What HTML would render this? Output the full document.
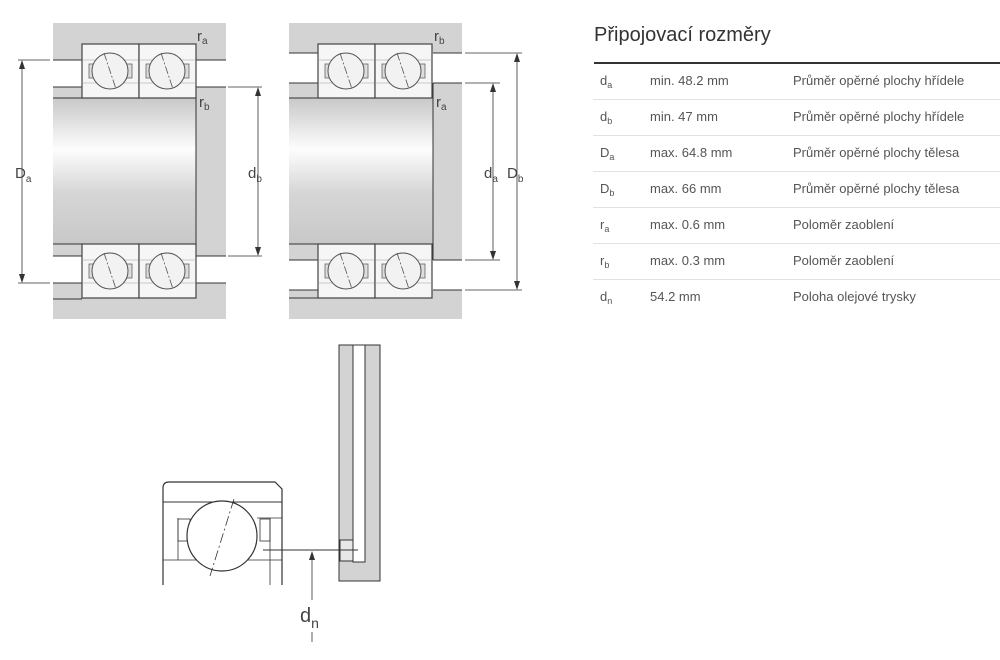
<!DOCTYPE html>
<html><head><meta charset="utf-8"><style>
body{margin:0;width:1000px;height:660px;background:#fff;overflow:hidden;font-family:"Liberation Sans",sans-serif;position:relative}
svg{position:absolute;left:0;top:0}
.t{position:absolute;left:593px;top:20px;width:407px;color:#333}
h1{font-weight:normal;font-size:20px;margin:0 0 0 1px;height:42px;line-height:30px;border-bottom:2px solid #333}
.r{height:35px;border-bottom:1px solid #e2e2e2;font-size:13px;line-height:34px;position:relative;color:#555}
.r span{position:absolute;top:0}
.a{left:7px}.b{left:57px}.c{left:200px}
sub{font-size:9px;vertical-align:-3px;line-height:0}
</style></head><body>
<svg width="1000" height="660" viewBox="0 0 1000 660" font-family="Liberation Sans, sans-serif" fill="none">
<defs>
<linearGradient id="g" x1="0" y1="0" x2="0" y2="1">
<stop offset="0" stop-color="#c8c8c8"/><stop offset="0.35" stop-color="#fdfdfd"/><stop offset="0.65" stop-color="#d6d6d6"/><stop offset="1" stop-color="#c8c8c8"/></linearGradient>
<g id="u">
<rect x="0" y="0" width="57" height="54" fill="#f6f6f6" stroke="#444" stroke-width="1.2"/>
<line x1="0" y1="16" x2="57" y2="16" stroke="#999" stroke-width=".6"/>
<line x1="0" y1="39" x2="57" y2="39" stroke="#999" stroke-width=".6"/>
<rect x="7" y="20" width="5" height="14" fill="#ddd" stroke="#666" stroke-width=".8"/>
<rect x="45" y="20" width="5" height="14" fill="#ddd" stroke="#666" stroke-width=".8"/>
<circle cx="28" cy="27" r="18" fill="#f2f2f2" stroke="#555" stroke-width="1"/>
<line x1="22" y1="9" x2="34" y2="45" stroke="#555" stroke-width=".8" stroke-dasharray="8 2 2 2"/>
</g>
</defs>
<!-- left diagram -->
<rect x="53" y="23" width="173" height="296" fill="#d3d3d3"/>
<rect x="53" y="60" width="173" height="27" fill="#fff"/>
<rect x="53" y="256" width="173" height="27" fill="#fff"/>
<rect x="53" y="98" width="143" height="146" fill="url(#g)"/>
<g stroke="#333" stroke-width="1">
<line x1="53" y1="60" x2="82" y2="60"/><line x1="53" y1="87" x2="82" y2="87"/><line x1="53" y1="98" x2="196" y2="98"/>
<line x1="196" y1="60" x2="226" y2="60"/><line x1="196" y1="87" x2="226" y2="87"/>
<line x1="53" y1="244" x2="196" y2="244"/><line x1="53" y1="256" x2="82" y2="256"/><line x1="53" y1="283" x2="82" y2="283"/>
<line x1="196" y1="256" x2="226" y2="256"/><line x1="196" y1="283" x2="226" y2="283"/><line x1="53" y1="299" x2="82" y2="299"/>
<line x1="196" y1="87" x2="196" y2="256"/>
</g>
<use href="#u" x="82" y="44"/><use href="#u" x="139" y="44"/>
<use href="#u" x="82" y="244"/><use href="#u" x="139" y="244"/>
<g stroke="#333" stroke-width=".8">
<line x1="18" y1="60" x2="50" y2="60"/><line x1="18" y1="283" x2="50" y2="283"/><line x1="22" y1="62" x2="22" y2="281"/>
<line x1="228" y1="87" x2="262" y2="87"/><line x1="228" y1="256" x2="262" y2="256"/><line x1="258" y1="89" x2="258" y2="254"/>
<line x1="291" y1="53" x2="320" y2="53"/>
</g>
<g fill="#333">
<path d="M22 60l-3 9h6z"/><path d="M22 283l-3-9h6z"/><path d="M258 87l-3 9h6z"/><path d="M258 256l-3-9h6z"/>
</g>
<!-- right diagram -->
<rect x="289" y="23" width="173" height="296" fill="#d3d3d3"/>
<rect x="289" y="53" width="173" height="30" fill="#fff"/>
<rect x="289" y="260" width="173" height="30" fill="#fff"/>
<rect x="289" y="98" width="144" height="146" fill="url(#g)"/>
<g stroke="#333" stroke-width="1">
<line x1="289" y1="53" x2="318" y2="53"/><line x1="289" y1="83" x2="318" y2="83"/><line x1="289" y1="98" x2="433" y2="98"/>
<line x1="433" y1="53" x2="462" y2="53"/><line x1="433" y1="83" x2="462" y2="83"/>
<line x1="289" y1="244" x2="433" y2="244"/><line x1="289" y1="260" x2="318" y2="260"/><line x1="289" y1="290" x2="318" y2="290"/>
<line x1="433" y1="260" x2="462" y2="260"/><line x1="433" y1="290" x2="462" y2="290"/><line x1="289" y1="298" x2="318" y2="298"/>
<line x1="433" y1="83" x2="433" y2="260"/>
</g>
<use href="#u" x="318" y="44"/><use href="#u" x="375" y="44"/>
<use href="#u" x="318" y="244"/><use href="#u" x="375" y="244"/>
<g stroke="#333" stroke-width=".8">
<line x1="465" y1="83" x2="500" y2="83"/><line x1="465" y1="260" x2="500" y2="260"/><line x1="493" y1="85" x2="493" y2="258"/>
<line x1="465" y1="53" x2="522" y2="53"/><line x1="465" y1="290" x2="522" y2="290"/><line x1="517" y1="55" x2="517" y2="288"/>
</g>
<g fill="#333">
<path d="M493 83l-3 9h6z"/><path d="M493 260l-3-9h6z"/><path d="M517 53l-3 9h6z"/><path d="M517 290l-3-9h6z"/>
</g>
<g fill="#444" font-size="15">
<text x="197" y="41">r<tspan font-size="10" dy="3">a</tspan></text>
<text x="199" y="107">r<tspan font-size="10" dy="3">b</tspan></text>
<text x="15" y="178">D<tspan font-size="10" dy="4">a</tspan></text>
<text x="248" y="178">d<tspan font-size="10" dy="4">b</tspan></text>
<text x="434" y="41">r<tspan font-size="10" dy="3">b</tspan></text>
<text x="436" y="107">r<tspan font-size="10" dy="3">a</tspan></text>
<text x="484" y="178">d<tspan font-size="10" dy="4">a</tspan></text>
<text x="507" y="178">D<tspan font-size="10" dy="4">b</tspan></text>
<text x="300" y="622" font-size="20">d<tspan font-size="14" dy="6">n</tspan></text>
</g>
<!-- bottom diagram -->
<path d="M163 585V488q0-6 6-6h106l7 7v96" stroke="#333" stroke-width="1.2"/>
<line x1="163" y1="502" x2="282" y2="502" stroke="#333"/>
<line x1="163" y1="560" x2="282" y2="560" stroke="#333" stroke-width=".8"/>
<line x1="257" y1="518" x2="282" y2="518" stroke="#333" stroke-width=".8"/>
<line x1="270" y1="518" x2="270" y2="585" stroke="#333" stroke-width=".8"/>
<line x1="178" y1="518" x2="178" y2="560" stroke="#333" stroke-width=".8"/>
<rect x="178" y="519" width="12" height="22" stroke="#333" stroke-width=".8"/>
<rect x="260" y="519" width="10" height="22" stroke="#333" stroke-width=".8"/>
<circle cx="222" cy="536" r="35" fill="#fff" stroke="#333" stroke-width="1.2"/>
<line x1="234" y1="499" x2="210" y2="576" stroke="#333" stroke-width=".8" stroke-dasharray="10 3 2 3"/>
<rect x="339" y="345" width="41" height="236" fill="#d3d3d3" stroke="#333"/>
<rect x="353" y="345" width="12" height="217" fill="#fff" stroke="#333"/>
<rect x="340" y="540" width="13" height="21" fill="#e8e8e8" stroke="#333"/>
<line x1="263" y1="550" x2="358" y2="550" stroke="#333"/>
<line x1="312" y1="554" x2="312" y2="600" stroke="#333" stroke-width=".8"/>
<line x1="312" y1="632" x2="312" y2="642" stroke="#333" stroke-width=".8"/>
<path d="M312 551l-3 9h6z" fill="#333"/>
</svg>
<div class="t">
<h1>Připojovací rozměry</h1>
<div class="r"><span class="a">d<sub>a</sub></span><span class="b">min. 48.2 mm</span><span class="c">Průměr opěrné plochy hřídele</span></div>
<div class="r"><span class="a">d<sub>b</sub></span><span class="b">min. 47 mm</span><span class="c">Průměr opěrné plochy hřídele</span></div>
<div class="r"><span class="a">D<sub>a</sub></span><span class="b">max. 64.8 mm</span><span class="c">Průměr opěrné plochy tělesa</span></div>
<div class="r"><span class="a">D<sub>b</sub></span><span class="b">max. 66 mm</span><span class="c">Průměr opěrné plochy tělesa</span></div>
<div class="r"><span class="a">r<sub>a</sub></span><span class="b">max. 0.6 mm</span><span class="c">Poloměr zaoblení</span></div>
<div class="r"><span class="a">r<sub>b</sub></span><span class="b">max. 0.3 mm</span><span class="c">Poloměr zaoblení</span></div>
<div class="r" style="border-bottom:none"><span class="a">d<sub>n</sub></span><span class="b">54.2 mm</span><span class="c">Poloha olejové trysky</span></div>
</div>
</body></html>
